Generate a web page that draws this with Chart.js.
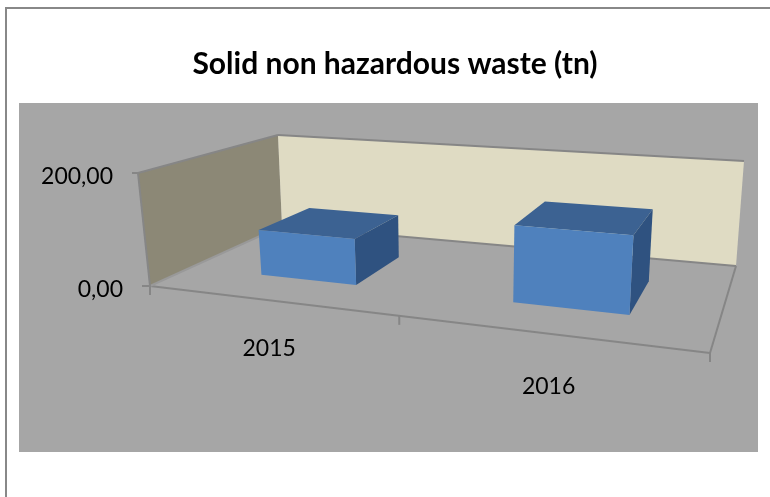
<!DOCTYPE html>
<html>
<head>
<meta charset="utf-8">
<style>html,body{margin:0;padding:0;background:#fff}canvas{display:block}</style>
<script src="https://cdn.jsdelivr.net/npm/chart.js@4"></script>
</head>
<body>
<div style="width:770px;height:497px"><canvas id="c" width="770" height="497"></canvas></div>
<script>
const titleText = 'Solid non hazardous waste (tn)';
const categories = ['2015', '2016'];
const seriesValues = [82, 130];
const yMax = 200;

// Corners of the 3D box on the page: [u, w] with u along categories, w into depth
const floorQuad = [[150,286],[710,353],[736,266],[282,226]]; // front-left, front-right, back-right, back-left
const topQuad   = [[138,173],[720,217],[744,161],[278,135]];
const depthRange = [0.27, 0.68];
const barShiftU = 0.008;

function squareToQuad(q){
  const [[x0,y0],[x1,y1],[x2,y2],[x3,y3]] = q;
  const dx1=x1-x2, dx2=x3-x2, sx=x0-x1+x2-x3, dy1=y1-y2, dy2=y3-y2, sy=y0-y1+y2-y3;
  const d=dx1*dy2-dx2*dy1;
  const g=(sx*dy2-dx2*sy)/d, h=(dx1*sy-sx*dy1)/d;
  const a=x1-x0+g*x1, b=x3-x0+h*x3, c=x0, e=y1-y0+g*y1, f=y3-y0+h*y3, i=y0;
  return (u,w)=>{const n=g*u+h*w+1; return [(a*u+b*w+c)/n,(e*u+f*w+i)/n];};
}
const floorMap = squareToQuad(floorQuad), topMap = squareToQuad(topQuad);
function project(u,t,w){
  const p=floorMap(u,w), q=topMap(u,w);
  return [p[0]+(q[0]-p[0])*t, p[1]+(q[1]-p[1])*t];
}
function poly(ctx,pts,fill){
  ctx.beginPath();pts.forEach((p,i)=>i?ctx.lineTo(p[0],p[1]):ctx.moveTo(p[0],p[1]));ctx.closePath();
  ctx.fillStyle=fill;ctx.fill();
}
function seg(ctx,a,b,color,width){
  ctx.beginPath();ctx.moveTo(a[0],a[1]);ctx.lineTo(b[0],b[1]);ctx.strokeStyle=color;ctx.lineWidth=width;ctx.stroke();
}

const scene3d = {
  id:'scene3d',
  beforeDatasetsDraw(chart){
    const ctx=chart.ctx;
    ctx.save();
    // frame and plot background
    ctx.fillStyle='#a6a6a6';ctx.fillRect(19,103,739,349);
    ctx.fillStyle='#888888';ctx.fillRect(5,7,765,2);ctx.fillRect(5,7,2,490);
    // walls
    const [f0,f1,f2,f3]=floorQuad,[t0,t1,t2,t3]=topQuad;
    poly(ctx,[f0,t0,t3,f3],'#8c8876');
    poly(ctx,[f3,t3,t2,f2],'#dfdbc3');
    const line='#868686';
    seg(ctx,t3,t2,line,2);seg(ctx,f3,f2,line,2);
    seg(ctx,f0,f1,line,2);seg(ctx,f1,f2,line,2);
    seg(ctx,t0,t3,line,2);seg(ctx,f0,f3,'#999999',2);seg(ctx,f0,t0,line,2);
    // axis tick marks
    seg(ctx,[132,173],t0,line,2);
    seg(ctx,[142,286],f0,line,2);
    [0,0.5,1].forEach(u=>{const p=floorMap(u,0);seg(ctx,p,[p[0],p[1]+9],line,2);});
    ctx.restore();
  },
  beforeDatasetDraw(chart,args){
    const ctx=chart.ctx, area=chart.chartArea, y=chart.scales.y, meta=args.meta;
    const colors={front:'#4f81bd',top:'#3c6292',side:'#2f5280'};
    meta.data.forEach(el=>{
      const b=el.getProps(['x','y','base','width'],true);
      const u0=(b.x-b.width/2-area.left)/area.width+barShiftU, u1=(b.x+b.width/2-area.left)/area.width+barShiftU;
      const t=(y.getPixelForValue(0)-b.y)/(y.getPixelForValue(0)-y.getPixelForValue(yMax));
      const [w0,w1]=depthRange;
      poly(ctx,[project(u0,t,w0),project(u1,t,w0),project(u1,t,w1),project(u0,t,w1)],colors.top);
      poly(ctx,[project(u1,0,w0),project(u1,t,w0),project(u1,t,w1),project(u1,0,w1)],colors.side);
      poly(ctx,[project(u0,0,w0),project(u1,0,w0),project(u1,t,w0),project(u0,t,w0)],colors.front);
    });
    return false;
  },
  afterDatasetsDraw(chart){
    const ctx=chart.ctx, xs=chart.scales.x, ys=chart.scales.y, area=chart.chartArea;
    ctx.save();
    ctx.font='23px Lato';ctx.fillStyle='#000';ctx.textBaseline='middle';
    ctx.textAlign='right';
    ys.ticks.forEach(t=>{
      const f=(t.value)/yMax;
      const p=project(0,f,0);
      ctx.fillText(t.label,f?113:123,p[1]+(f?4:4));
    });
    ctx.textAlign='center';
    xs.ticks.forEach((t,i)=>{
      const u=(xs.getPixelForTick(i)-area.left)/area.width;
      const p=floorMap(u,0);
      ctx.fillText(xs.getLabelForValue(t.value),p[0]+(i?3:1),p[1]+(i?53:48));
    });
    ctx.restore();
  }
};

new Chart(document.getElementById('c'),{
  type:'bar',
  data:{labels:categories,datasets:[{label:titleText,data:seriesValues,backgroundColor:'#4f81bd',barPercentage:0.40,categoryPercentage:1}]},
  plugins:[scene3d],
  options:{
    responsive:false,animation:false,
    layout:{padding:{left:20,right:0,top:0,bottom:0}},
    plugins:{
      legend:{display:false},tooltip:{enabled:false},
      title:{display:true,text:titleText,color:'#000',font:{family:'Lato',size:30,weight:'bold'},padding:{top:46,bottom:18}}
    },
    scales:{
      x:{display:false},
      y:{display:false,min:0,max:yMax,ticks:{stepSize:yMax,callback:v=>v.toFixed(2).replace('.',',')}}
    }
  }
});
</script>
</body>
</html>
